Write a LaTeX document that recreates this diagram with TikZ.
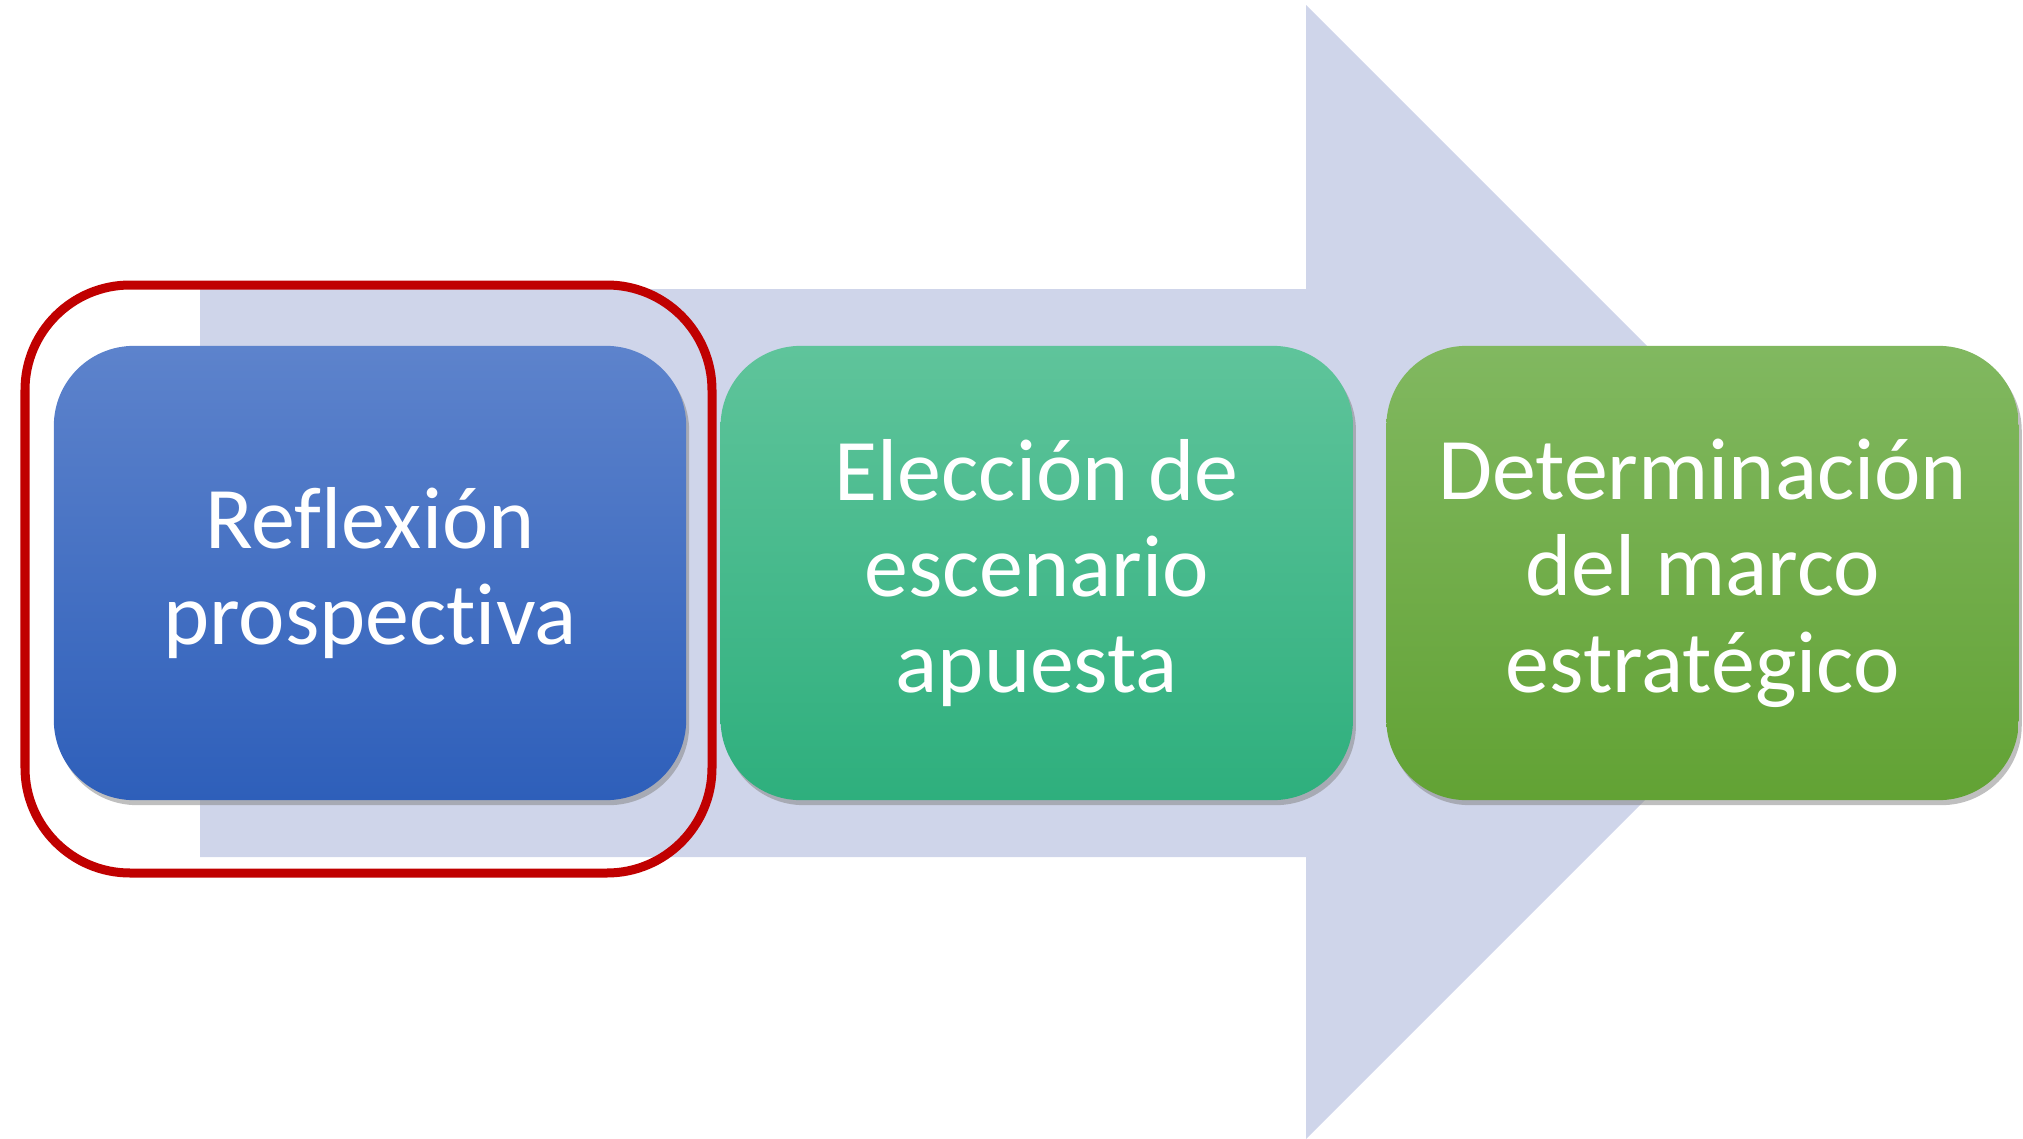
\documentclass[tikz,border=0pt]{standalone}
\usepackage{fontspec}
\setmainfont{Carlito}[Ligatures=NoCommon]
\usetikzlibrary{positioning,shadows}
\definecolor{flecha}{RGB}{207,213,234}
\definecolor{azularriba}{RGB}{93,131,204}
\definecolor{azulabajo}{RGB}{46,95,186}
\definecolor{verdearriba}{RGB}{95,196,155}
\definecolor{verdeabajo}{RGB}{46,175,125}
\definecolor{pastoarriba}{RGB}{129,184,96}
\definecolor{pastoabajo}{RGB}{98,162,52}
\definecolor{rojo}{RGB}{192,0,0}

\tikzset{
  etapa/.style={rectangle, rounded corners=0.8cm, minimum width=6.32cm, minimum height=4.54cm,
    align=center, text=white, font=\fontsize{25}{27.4}\selectfont,
    drop shadow={shadow xshift=0.03cm, shadow yshift=-0.05cm, opacity=0.5}},
  marco/.style={draw=rojo, line width=0.09cm, rounded corners=1.05cm}
}

\begin{document}
\begin{tikzpicture}[x=0.01cm,y=-0.01cm]
			\useasboundingbox (0,0) rectangle (2023,1139);
			% flecha de fondo
			\fill[flecha] (200,289) -- (1306,289) -- (1306,5) -- (1873,572) -- (1306,1139) -- (1306,857) -- (200,857) -- cycle;
			% etapas
			\node[etapa, top color=azularriba, bottom color=azulabajo] (reflexion) at (370,573) {Reflexión\\prospectiva};
			\node[etapa, top color=verdearriba, bottom color=verdeabajo, right=0.33cm of reflexion] (eleccion) {Elección de\\escenario\\apuesta};
			\node[etapa, top color=pastoarriba, bottom color=pastoabajo, right=0.32cm of eleccion] (marcoestr) {Determinación\\del marco\\estratégico};
			% marco rojo
			\draw[marco] (25,285) rectangle (712,873);
\end{tikzpicture}
\end{document}
